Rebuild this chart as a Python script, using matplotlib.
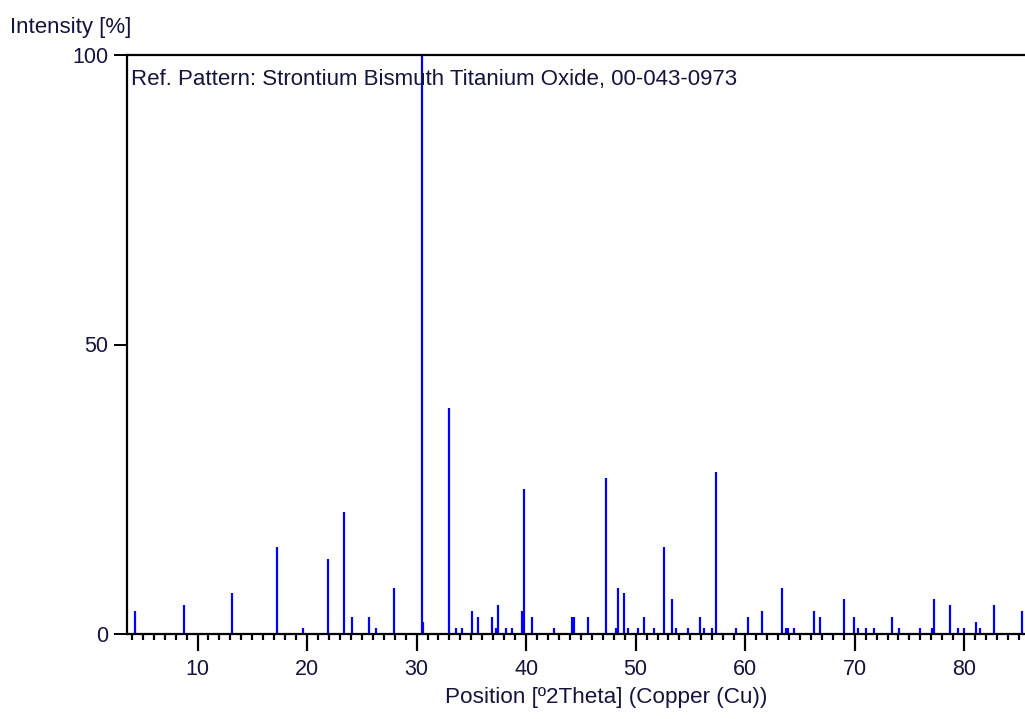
import numpy as np
import matplotlib
matplotlib.use('Agg')
import matplotlib.pyplot as plt
from matplotlib.ticker import MultipleLocator

plt.rcParams['font.family'] = ['Liberation Sans', 'DejaVu Sans']

##################################################
# peak list (2theta, relative intensity)

pos = [4.31, 8.73, 13.14, 17.30, 19.67, 21.90, 23.33, 24.09, 25.70, 26.25,
       27.92, 30.48, 30.63, 33.00, 33.58, 34.13, 35.04, 35.62, 36.87, 37.29,
       37.42, 38.17, 38.72, 39.61, 39.79, 40.52, 42.55, 44.17, 44.35, 45.63,
       47.27, 48.21, 48.40, 48.94, 49.31, 50.22, 50.77, 51.68, 52.59, 53.32,
       53.69, 54.78, 55.88, 56.24, 56.97, 57.34, 59.17, 60.29, 61.57, 63.39,
       63.76, 63.94, 64.49, 66.31, 66.86, 69.05, 69.96, 70.33, 71.06, 71.79,
       73.43, 74.01, 75.99, 77.08, 77.26, 78.72, 79.45, 80.00, 81.10, 81.46,
       82.74, 85.30]
inten = [4, 5, 7, 15, 1, 13, 21, 3, 3, 1,
         8, 100, 2, 39, 1, 1, 4, 3, 3, 1,
         5, 1, 1, 4, 25, 3, 1, 3, 3, 3,
         27, 1, 8, 7, 1, 1, 3, 1, 15, 6,
         1, 1, 3, 1, 1, 28, 1, 3, 4, 8,
         1, 1, 1, 4, 3, 6, 3, 1, 1, 1,
         3, 1, 1, 1, 6, 5, 1, 1, 2, 1,
         5, 4]

title = 'Ref. Pattern: Strontium Bismuth Titanium Oxide, 00-043-0973'
txtcol = '#14143c'

##################################################
# plot

fig = plt.figure(figsize=(10.25, 7.19), dpi=100)
ax = fig.add_axes([127/1025, 1-634/719, 1-127/1025, (634-55)/719])

ax.vlines(pos, 0, inten, colors='#0000ff', linewidth=1.6)

ax.set_xlim(3.56, 85.55)
ax.set_ylim(0, 100)
ax.set_yticks([0, 50, 100])
ax.xaxis.set_major_locator(MultipleLocator(10))
ax.xaxis.set_minor_locator(MultipleLocator(1))

for s in ['left', 'bottom', 'top']:
    ax.spines[s].set_linewidth(1.6)
ax.spines['right'].set_visible(False)

ax.tick_params(axis='x', which='major', length=12, width=1.6, pad=6,
               labelsize=15.5, labelcolor=txtcol)
ax.tick_params(axis='x', which='minor', length=4.5, width=1.6)
ax.tick_params(axis='y', which='major', length=9.5, width=1.4, pad=4,
               labelsize=15.5, labelcolor=txtcol)

ax.text(0.0045, (634-85)/579, title, transform=ax.transAxes, ha='left',
        va='baseline', fontsize=16, color=txtcol)

fig.text(10/1025, 1-33/719, 'Intensity [%]', ha='left', va='baseline',
         fontsize=16, color=txtcol)
ax.set_xlabel('Position [º2Theta] (Copper (Cu))', fontsize=16.2, color=txtcol,
              va='center')
ax.xaxis.set_label_coords((606-127)/898, (634-698)/579)

fig.savefig('out.png', dpi=100)
